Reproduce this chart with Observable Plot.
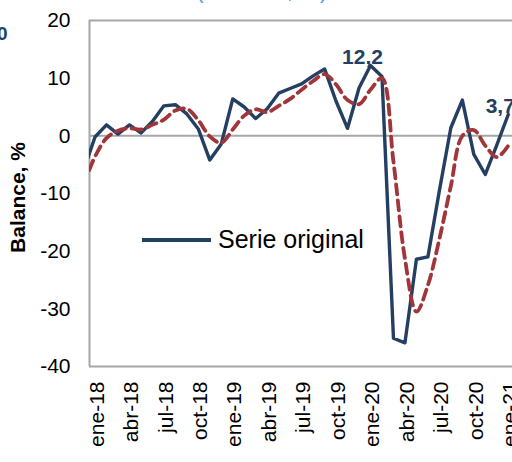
<!DOCTYPE html>
<html><head><meta charset="utf-8">
<script src="https://cdn.jsdelivr.net/npm/d3@7"></script>
<script src="https://cdn.jsdelivr.net/npm/@observablehq/plot@0.6"></script>
<style>
html,body{margin:0;padding:0;background:#fff;overflow:hidden;}
#wrap{position:relative;width:512px;height:462px;overflow:hidden;font-family:"Liberation Sans",Arial,sans-serif;}
#wrap svg{position:absolute;left:0;top:0;overflow:hidden;}
.ov{position:absolute;white-space:nowrap;line-height:1;}
</style></head><body><div id="wrap"></div>
<script>
// Months (index 0 = dic-17, partly outside the visible frame)
const months = ["dic-17",
  "ene-18","feb-18","mar-18","abr-18","may-18","jun-18","jul-18","ago-18","sep-18","oct-18","nov-18","dic-18",
  "ene-19","feb-19","mar-19","abr-19","may-19","jun-19","jul-19","ago-19","sep-19","oct-19","nov-19","dic-19",
  "ene-20","feb-20","mar-20","abr-20","may-20","jun-20","jul-20","ago-20","sep-20","oct-20","nov-20","dic-20",
  "ene-21"];
const original = [-6.0,
  -0.2, 1.9, 0.3, 1.9, 0.5, 2.5, 5.2, 5.4, 3.8, 1.2, -4.2, -1.4,
  6.4, 5.0, 3.0, 4.7, 7.4, 8.2, 9.0, 10.4, 11.6, 6.0, 1.3, 8.3,
  12.2, 10.3, -35.1, -35.9, -21.4, -21.0, -9.5, 1.4, 6.2, -3.2, -6.7, -1.6,
  3.7];
const trend = [-8.5,
  -3.6, -0.4, 0.9, 1.3, 1.1, 1.9, 2.8, 4.4, 4.7, 2.7, -0.1, -1.2,
  1.1, 3.5, 4.6, 4.1, 5.2, 6.4, 8.0, 9.5, 10.7, 8.9, 6.2, 5.5,
  8.0, 10.0, -4.5, -21.3, -30.5, -25.9, -17.9, -8.7, 0.0, 1.0, -1.7, -3.7,
  -1.7];
const tickLabels = ["ene-18","abr-18","jul-18","oct-18","ene-19","abr-19","jul-19","oct-19","ene-20","abr-20","jul-20","oct-20","ene-21"];
const yTicks = [-40, -30, -20, -10, 0, 10, 20];
const annMonths = ["ene-20", "ene-21"];
const annLabels = ["12,2", "3,7"];
const seriesName = "Serie original";
const yLabel = "Balance, %";
const titleFragment = "(Balance, %)";
const sideFragment = "0";

const BLUE = "#243f62", RED = "#a0363a", GRID = "#a6a6a6";

const data = months.map((m, i) => ({i, m, orig: original[i], trend: trend[i]}));
const ann = annMonths.map((m, k) => { const i = months.indexOf(m); return {i, y: original[i], t: annLabels[k]}; });
const xDomain = [0.52, 37.37];
const yDomain = [yTicks[0], yTicks[yTicks.length - 1]];

const chart = Plot.plot({
  width: 512, height: 462,
  marginLeft: 89, marginRight: 0, marginTop: 20, marginBottom: 96,
  style: {fontFamily: "'Liberation Sans', Arial, sans-serif", color: "#000", background: "transparent"},
  x: {type: "linear", domain: xDomain},
  y: {domain: yDomain},
  marks: [
    Plot.ruleY([0], {stroke: GRID, strokeWidth: 2}),
    Plot.ruleY([yDomain[1]], {stroke: GRID, strokeWidth: 2}),
    Plot.ruleY([yDomain[0]], {stroke: GRID, strokeWidth: 2}),
    Plot.ruleX([xDomain[0]], {stroke: GRID, strokeWidth: 2}),
    Plot.axisY({ticks: yTicks, tickSize: 0, tickPadding: 19, fontSize: 21, tickFormat: d => String(d), label: null}),
    Plot.axisX({ticks: tickLabels.map(t => months.indexOf(t)), tickFormat: i => months[i], tickRotate: -90, tickSize: 0, tickPadding: 15, fontSize: 21, dx: 2, label: null}),
    Plot.line(data, {x: "i", y: "orig", stroke: BLUE, strokeWidth: 3.4, clip: true}),
    Plot.line(data, {x: "i", y: "trend", stroke: RED, strokeWidth: 3.8, strokeDasharray: "10,6", curve: "catmull-rom", clip: true}),
    Plot.text(ann, {x: "i", y: "y", text: "t", fill: BLUE, fontWeight: "bold", fontSize: 21, lineAnchor: "bottom", textAnchor: "middle", dx: -8, dy: -1}),
    Plot.text([yLabel], {frameAnchor: "left", rotate: -90, dx: -71, dy: 4, fontWeight: "bold", fontSize: 21, textAnchor: "middle", lineAnchor: "middle", fill: "#000"})
  ]
});
const wrap = document.getElementById("wrap");
wrap.appendChild(chart);

// legend (inside plot area)
const leg = document.createElement("div");
leg.className = "ov";
leg.style.cssText = "left:142px;top:238px;width:69px;height:3.5px;background:" + BLUE + ";";
wrap.appendChild(leg);
const legT = document.createElement("div");
legT.className = "ov";
legT.textContent = seriesName;
legT.style.cssText = "left:218px;top:227px;font-size:25px;color:#000;";
wrap.appendChild(legT);

// cropped fragments of neighbouring content
const tf = document.createElement("div");
tf.className = "ov";
tf.textContent = titleFragment;
tf.style.cssText = "left:196px;top:-21px;font-size:23px;color:#5b9bd5;";
wrap.appendChild(tf);
const sf = document.createElement("div");
sf.className = "ov";
sf.textContent = sideFragment;
sf.style.cssText = "left:-3px;top:24px;font-size:19px;font-weight:bold;color:" + BLUE + ";";
wrap.appendChild(sf);
</script></body></html>
